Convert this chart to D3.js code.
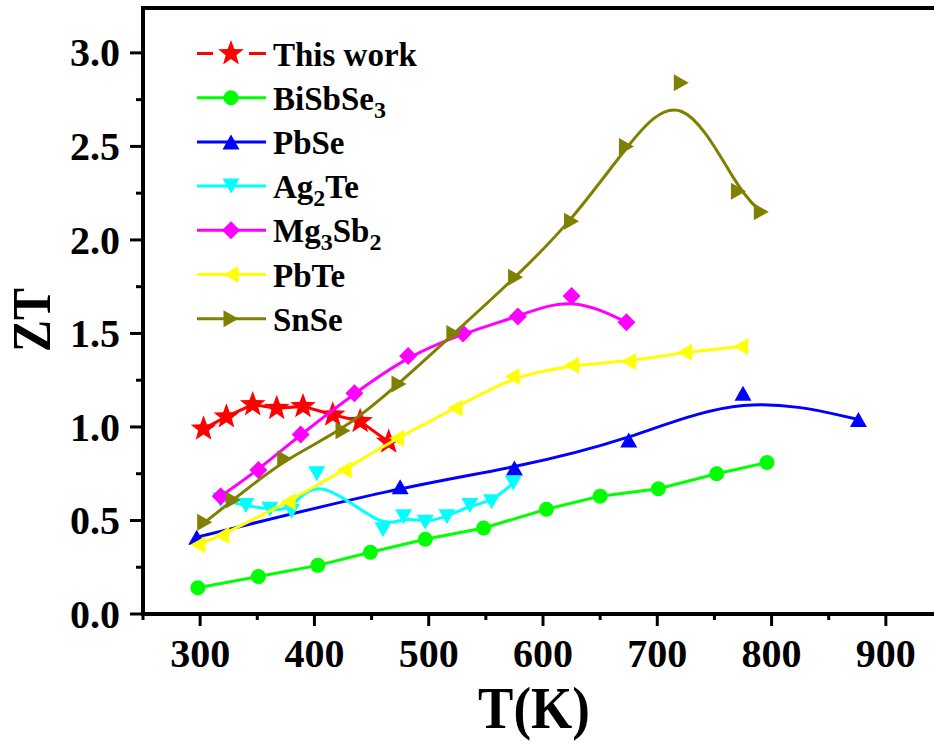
<!DOCTYPE html>
<html><head><meta charset="utf-8">
<script src="https://cdn.jsdelivr.net/npm/d3@7"></script>
<style>
html,body{margin:0;padding:0;background:#fff;overflow:hidden}
text{font-family:"Liberation Serif","Times New Roman",serif;font-weight:bold;fill:#000}
</style></head>
<body><svg id="c" width="934" height="742"></svg>
<script>
// ---- data ----
const seriesNames = ["This work", "BiSbSe3", "PbSe", "Ag2Te", "Mg3Sb2", "PbTe", "SnSe"];
const thisWorkT  = [303, 323, 346, 367, 390, 416, 440, 465];
const thisWorkZT = [0.99, 1.055, 1.12, 1.10, 1.11, 1.065, 1.03, 0.92];
const bisbse3T  = [298, 351, 403, 449, 497, 548, 603, 650, 701, 752, 796];
const bisbse3ZT = [0.14, 0.20, 0.26, 0.33, 0.40, 0.46, 0.56, 0.63, 0.67, 0.75, 0.81];
const pbseT  = [297, 475, 575, 675, 775, 876];
const pbseZT = [0.41, 0.68, 0.78, 0.93, 1.18, 1.04];
const ag2teT  = [318, 340, 361, 380, 402, 460, 478, 497, 516, 536, 555, 574];
const ag2teZT = [0.61, 0.58, 0.56, 0.55, 0.75, 0.45, 0.52, 0.49, 0.52, 0.58, 0.60, 0.70];
const mg3sb2T  = [318, 351, 388, 435, 482, 530, 578, 625, 673];
const mg3sb2ZT = [0.63, 0.77, 0.96, 1.18, 1.38, 1.50, 1.59, 1.70, 1.56];
const pbteT  = [298, 319, 377, 426, 472, 523, 573, 625, 675, 724, 773];
const pbteZT = [0.37, 0.42, 0.60, 0.77, 0.94, 1.10, 1.27, 1.33, 1.35, 1.40, 1.43];
const snseT  = [304, 329, 374, 425, 474, 522, 576, 625, 673, 721, 771, 791];
const snseZT = [0.49, 0.61, 0.83, 0.98, 1.23, 1.50, 1.80, 2.10, 2.50, 2.84, 2.26, 2.15];
const xTickValues = [300, 400, 500, 600, 700, 800, 900];
const yTickValues = [0.0, 0.5, 1.0, 1.5, 2.0, 2.5, 3.0];
const xLabel = "T(K)", yLabel = "ZT";

// ---- setup ----
const svg = d3.select("#c");
const L = 143, R = 943, T = 8, B = 614;
const x = d3.scaleLinear().domain([250, 950]).range([L, R]);
const y = d3.scaleLinear().domain([0, 3.24]).range([B, T]);

const colors = ["#ff0000", "#00ff00", "#0000ff", "#00ffff", "#ff00ff", "#ffff00", "#808000"];
const shapes = ["star", "circle", "up", "down", "diamond", "left", "right"];
const curves = [d3.curveLinear, d3.curveLinear, d3.curveBasis, d3.curveBasis, d3.curveBasis, d3.curveBasis, d3.curveBasis];
const allT = [thisWorkT, bisbse3T, pbseT, ag2teT, mg3sb2T, pbteT, snseT];
const allZT = [thisWorkZT, bisbse3ZT, pbseZT, ag2teZT, mg3sb2ZT, pbteZT, snseZT];

function markerPath(shape) {
  if (shape === "star") {
    const pts = [];
    for (let i = 0; i < 10; i++) {
      const r = i % 2 === 0 ? 13.5 : 5.6;
      const a = -Math.PI / 2 + i * Math.PI / 5;
      pts.push([r * Math.cos(a), r * Math.sin(a)]);
    }
    return "M" + pts.map(p => p.join(",")).join("L") + "Z";
  }
  if (shape === "circle") { const r = 7.5; return `M${-r},0A${r},${r} 0 1,0 ${r},0A${r},${r} 0 1,0 ${-r},0Z`; }
  const w = 17, h = 15;
  if (shape === "up") return `M0,${-h/2}L${w/2},${h/2}L${-w/2},${h/2}Z`;
  if (shape === "down") return `M0,${h/2}L${w/2},${-h/2}L${-w/2},${-h/2}Z`;
  if (shape === "left") return `M${-h/2},0L${h/2},${-w/2}L${h/2},${w/2}Z`;
  if (shape === "right") return `M${h/2},0L${-h/2},${-w/2}L${-h/2},${w/2}Z`;
  if (shape === "diamond") { const d = 9; return `M0,${-d}L${d},0L0,${d}L${-d},0Z`; }
}

// ---- axes ----
const ax = svg.append("g");
const yMinor = d3.range(0, 3.24, 0.25);
ax.selectAll(".ym").data(yMinor).join("line")
  .attr("x1", L).attr("x2", d => (Math.abs(d*2 - Math.round(d*2)) < 1e-6) ? L - 13 : L - 7)
  .attr("y1", d => y(d)).attr("y2", d => y(d))
  .attr("stroke", "#000").attr("stroke-width", 3);
ax.selectAll(".yl").data(yTickValues).join("text")
  .attr("x", 120).attr("y", d => y(d)).attr("dy", "0.34em")
  .attr("text-anchor", "end").attr("font-size", 40)
  .text(d => d3.format(".1f")(d));
const xMinor = d3.range(250, 951, 50);
ax.selectAll(".xm").data(xMinor).join("line")
  .attr("x1", d => x(d)).attr("x2", d => x(d))
  .attr("y1", B).attr("y2", d => d % 100 === 0 ? B + 12 : B + 6)
  .attr("stroke", "#000").attr("stroke-width", 3);
ax.selectAll(".xl").data(xTickValues).join("text")
  .attr("x", d => x(d)).attr("y", 667)
  .attr("text-anchor", "middle").attr("font-size", 40)
  .text(d => d);
ax.append("line").attr("x1", L).attr("x2", L).attr("y1", T - 2).attr("y2", B + 2).attr("stroke", "#000").attr("stroke-width", 4);
ax.append("line").attr("x1", L - 2).attr("x2", R).attr("y1", B).attr("y2", B).attr("stroke", "#000").attr("stroke-width", 4);
ax.append("line").attr("x1", L - 2).attr("x2", R).attr("y1", T).attr("y2", T).attr("stroke", "#000").attr("stroke-width", 4);
// titles (slightly stretched like the original)
svg.append("text").attr("transform", "translate(534,728) scale(1,1.12)")
  .attr("text-anchor", "middle").attr("font-size", 53).text(xLabel);
svg.append("text").attr("transform", "translate(50,320) rotate(-90) scale(1,1.15)")
  .attr("text-anchor", "middle").attr("font-size", 48).text(yLabel);

// ---- series ----
const plot = svg.append("g");
seriesNames.forEach((name, i) => {
  const data = allT[i].map((t, j) => ({t, z: allZT[i][j]}));
  const g = plot.append("g");
  g.append("path").datum(data)
    .attr("d", d3.line().x(d => x(d.t)).y(d => y(d.z)).curve(curves[i]))
    .attr("fill", "none").attr("stroke", colors[i]).attr("stroke-width", 3);
  g.selectAll("path.m").data(data).join("path").attr("class", "m")
    .attr("transform", d => `translate(${x(d.t)},${y(d.z)})`)
    .attr("d", markerPath(shapes[i])).attr("fill", colors[i]);
});

// ---- legend ----
const leg = svg.append("g");
function addLabel(sel, name) {
  const parts = name.match(/[A-Za-z ]+|\d+/g);
  parts.forEach(p => {
    if (/^\d+$/.test(p)) sel.append("tspan").attr("font-size", 24).attr("dy", 8).text(p);
    else {
      const ts = sel.append("tspan").text(p);
      if (sel.node().childNodes.length > 1) ts.attr("dy", -8);
    }
  });
}
seriesNames.forEach((name, i) => {
  const cy = 53.5 + i * 44.2;
  const g = leg.append("g");
  if (i === 0) {
    g.append("line").attr("x1", 197).attr("x2", 213).attr("y1", cy).attr("y2", cy).attr("stroke", colors[i]).attr("stroke-width", 3);
    g.append("line").attr("x1", 249).attr("x2", 266).attr("y1", cy).attr("y2", cy).attr("stroke", colors[i]).attr("stroke-width", 3);
  } else {
    g.append("line").attr("x1", 197).attr("x2", 266).attr("y1", cy).attr("y2", cy).attr("stroke", colors[i]).attr("stroke-width", 3);
  }
  g.append("path").attr("transform", `translate(231,${cy})`).attr("d", markerPath(shapes[i])).attr("fill", colors[i]);
  const tx = g.append("text").attr("x", 273).attr("y", cy + 12).attr("font-size", 33);
  addLabel(tx, name);
});
</script>
</body></html>
